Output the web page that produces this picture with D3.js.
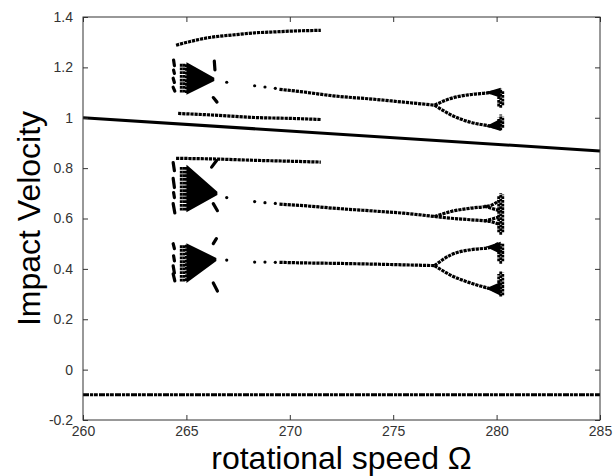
<!DOCTYPE html>
<meta charset="utf-8">
<style>
  body { margin: 0; background: #fff; font-family: "Liberation Sans", Arial, sans-serif; }
</style>
<body>
<svg></svg>
<script src="https://d3js.org/d3.v7.min.js"></script>
<script>

// axis ticks
var xTicks = [260, 265, 270, 275, 280, 285];
var yTicks = [-0.2, 0, 0.2, 0.4, 0.6, 0.8, 1, 1.2, 1.4];

// solid threshold line
var thresholdOmega = [260, 285];
var thresholdV = [1.0, 0.868];

// non-impacting branch along the bottom
var floorOmega = [260, 285];
var floorV = [-0.1, -0.1];

// dotted branches: each is [omega list, velocity list]
var topArc = [[264.5, 265.1, 266.0, 267.4, 268.3, 269.3, 270.4, 271.5],
              [1.288, 1.301, 1.317, 1.330, 1.337, 1.341, 1.345, 1.347]];
var band101 = [[264.6, 266.2, 268.3, 270.2, 271.5],
               [1.017, 1.011, 1.001, 0.997, 0.993]];
var band083 = [[264.5, 266.5, 268.3, 270.2, 271.5],
               [0.839, 0.836, 0.831, 0.827, 0.824]];

var upperP1 = [[269.5, 270.5, 272.1, 274.0, 275.5, 277.0],
               [1.113, 1.104, 1.087, 1.074, 1.062, 1.050]];
var upperHi = [[277.0, 277.8, 278.74, 279.69, 280.1], [1.050, 1.077, 1.092, 1.100, 1.106]];
var upperLo = [[277.0, 277.8, 278.74, 279.69, 280.1], [1.050, 1.011, 0.982, 0.967, 0.960]];

var middleP1 = [[269.5, 270.5, 272.1, 274.0, 275.5, 277.0],
                [0.657, 0.652, 0.641, 0.630, 0.621, 0.608]];
var middleHi = [[277.0, 277.8, 278.74, 279.69, 280.1], [0.608, 0.628, 0.641, 0.651, 0.670]];
var middleLo = [[277.0, 277.8, 278.74, 279.69, 280.1], [0.608, 0.601, 0.595, 0.588, 0.578]];
var middleHi2 = [[279.4, 280.1], [0.649, 0.632]];
var middleLo2 = [[279.4, 280.1], [0.590, 0.605]];

var lowerP1 = [[269.5, 270.5, 272.1, 274.0, 275.5, 277.0],
               [0.426, 0.424, 0.422, 0.419, 0.416, 0.413]];
var lowerHi = [[277.0, 277.8, 278.74, 279.69, 280.1], [0.413, 0.456, 0.476, 0.485, 0.502]];
var lowerLo = [[277.0, 277.8, 278.74, 279.69, 280.1], [0.413, 0.374, 0.344, 0.321, 0.311]];

// isolated sparse points leading into the period-1 branches
var sparseOmega = [266.95, 268.3, 268.8, 269.3, 266.95, 268.3, 268.8, 269.3, 266.95, 268.3, 268.8, 269.3];
var sparseV = [1.141, 1.127, 1.122, 1.117, 0.683, 0.667, 0.663, 0.660, 0.435, 0.427, 0.427, 0.426];

// dense chaotic wedges near omega = 265 (polygon vertices)
var wedgeUpper = [[265.05, 266.3, 266.3, 265.05], [1.214, 1.156, 1.148, 1.098]];
var wedgeMiddle = [[265.05, 266.45, 266.45, 265.05], [0.805, 0.704, 0.696, 0.632]];
var wedgeLower = [[265.05, 266.4, 266.4, 265.05], [0.495, 0.441, 0.433, 0.352]];

// thickened branch ends just before the chaotic bands at omega ~ 280
var endUpperHi = [[279.6, 280.15, 280.15], [1.100, 1.114, 1.085]];
var endUpperLo = [[279.6, 280.15, 280.15], [0.967, 0.990, 0.953]];
var endLowerHi = [[279.6, 280.15, 280.15], [0.487, 0.502, 0.465]];
var endLowerLo = [[279.6, 280.15, 280.15], [0.322, 0.342, 0.300]];

// dense columns left of the wedges: [omega, low, high]
var wedgeColumns = [
  [264.75, 1.10, 1.216], [264.88, 1.10, 1.216], [265.0, 1.098, 1.215],
  [264.75, 0.632, 0.806], [264.88, 0.632, 0.806], [265.0, 0.632, 0.805],
  [264.75, 0.350, 0.497], [264.88, 0.350, 0.497], [265.0, 0.352, 0.496]
];

// scattered short streaks around the wedges: [omega0, v0, omega1, v1]
var scatterSegs = [
  [264.38, 1.229, 264.42, 1.207], [264.38, 1.189, 264.42, 1.176], [264.36, 1.157, 264.42, 1.140], [264.36, 1.121, 264.44, 1.106],
  [266.35, 1.225, 266.38, 1.19], [266.3, 1.08, 266.48, 1.062],
  [264.36, 0.822, 264.42, 0.79], [264.36, 0.759, 264.42, 0.723], [264.38, 0.703, 264.42, 0.683], [264.36, 0.659, 264.44, 0.622],
  [266.22, 0.804, 266.46, 0.83], [266.3, 0.659, 266.5, 0.631],
  [264.36, 0.50, 264.42, 0.48], [264.38, 0.452, 264.42, 0.432], [264.36, 0.412, 264.42, 0.384], [264.36, 0.38, 264.44, 0.352],
  [266.3, 0.50, 266.45, 0.52], [266.3, 0.344, 266.5, 0.312]
];

// chaotic bands at omega ~ 280.2: [omega, low, high]
var chaosBands = [
  [280.1, 1.045, 1.11], [280.2, 1.04, 1.115], [280.3, 1.05, 1.105],
  [280.1, 0.955, 1.0], [280.2, 0.95, 1.013], [280.3, 0.96, 1.005],
  [280.1, 0.545, 0.69], [280.2, 0.535, 0.70], [280.3, 0.545, 0.695],
  [280.1, 0.43, 0.495], [280.2, 0.42, 0.50], [280.3, 0.43, 0.50],
  [280.1, 0.30, 0.38], [280.2, 0.29, 0.39], [280.3, 0.295, 0.385]
];

var width = 614, height = 476;
var margin = {left: 83, right: 14, top: 17, bottom: 56};

var svg = d3.select('svg')
    .attr('width', width)
    .attr('height', height);

var x = d3.scaleLinear().domain([260, 285]).range([margin.left, width - margin.right]);
var y = d3.scaleLinear().domain([-0.2, 1.4]).range([height - margin.bottom, margin.top]);

var plot = svg.append('g');

function toPts(b) {
  return b[0].map(function (o, i) { return [o, b[1][i]]; });
}

var line = d3.line()
    .x(function (d) { return x(d[0]); })
    .y(function (d) { return y(d[1]); })
    .curve(d3.curveMonotoneX);

// threshold line
plot.append('path')
    .attr('d', line(toPts([thresholdOmega, thresholdV])))
    .attr('fill', 'none')
    .attr('stroke', '#000')
    .attr('stroke-width', 3);

// floor branch
plot.append('path')
    .attr('d', line(toPts([floorOmega, floorV])))
    .attr('fill', 'none')
    .attr('stroke', '#000')
    .attr('stroke-width', 3)
    .attr('stroke-dasharray', '6 1 3 0.8 4 1.2');

// dotted branches
var branches = [topArc, band101, band083, upperP1, upperHi, upperLo,
                middleP1, middleHi, middleLo, middleHi2, middleLo2,
                lowerP1, lowerHi, lowerLo];
plot.selectAll('.branch')
    .data(branches)
    .enter().append('path')
    .attr('class', 'branch')
    .attr('d', function (b) { return line(toPts(b)); })
    .attr('fill', 'none')
    .attr('stroke', '#000')
    .attr('stroke-width', 3.2)
    .attr('stroke-dasharray', '3.2 0.9');

// sparse points
plot.selectAll('.sparse')
    .data(sparseOmega)
    .enter().append('circle')
    .attr('class', 'sparse')
    .attr('cx', function (d) { return x(d); })
    .attr('cy', function (d, i) { return y(sparseV[i]); })
    .attr('r', 1.6)
    .attr('fill', '#000');

// wedges and thickened ends
plot.selectAll('.wedge')
    .data([wedgeUpper, wedgeMiddle, wedgeLower, endUpperHi, endUpperLo, endLowerHi, endLowerLo])
    .enter().append('polygon')
    .attr('class', 'wedge')
    .attr('points', function (b) {
      return toPts(b).map(function (p) { return x(p[0]) + ',' + y(p[1]); }).join(' ');
    })
    .attr('fill', '#000')
    .attr('stroke', '#000')
    .attr('stroke-width', 2);

// vertical dotted columns
plot.selectAll('.col')
    .data(wedgeColumns.concat(chaosBands))
    .enter().append('line')
    .attr('class', 'col')
    .attr('x1', function (d) { return x(d[0]); })
    .attr('x2', function (d) { return x(d[0]); })
    .attr('y1', function (d) { return y(d[1]); })
    .attr('y2', function (d) { return y(d[2]); })
    .attr('stroke', '#000')
    .attr('stroke-width', 2.8)
    .attr('stroke-dasharray', '2.8 0.9');

// scattered streaks
plot.selectAll('.seg')
    .data(scatterSegs)
    .enter().append('line')
    .attr('class', 'seg')
    .attr('x1', function (d) { return x(d[0]); })
    .attr('y1', function (d) { return y(d[1]); })
    .attr('x2', function (d) { return x(d[2]); })
    .attr('y2', function (d) { return y(d[3]); })
    .attr('stroke', '#000')
    .attr('stroke-width', 3.2)
    .attr('stroke-linecap', 'round');

// axes box with inward ticks
var axisColor = '#333';
var tickLen = 5;
function styleAxis(g) {
  g.select('.domain').remove();
  g.selectAll('.tick line').attr('stroke', axisColor);
  g.selectAll('.tick text').attr('fill', '#333').style('font-size', '14px')
      .style('font-family', '"Liberation Sans", Arial, sans-serif');
}

svg.append('g')
    .attr('transform', 'translate(0,' + y.range()[0] + ')')
    .call(d3.axisBottom(x).tickValues(xTicks).tickSizeInner(-tickLen).tickSizeOuter(0).tickPadding(6)
          .tickFormat(d3.format('d')))
    .call(styleAxis);

svg.append('g')
    .attr('transform', 'translate(0,' + y.range()[1] + ')')
    .call(d3.axisTop(x).tickValues(xTicks).tickSizeInner(-tickLen).tickSizeOuter(0).tickFormat(''))
    .call(styleAxis);

svg.append('g')
    .attr('transform', 'translate(' + x.range()[0] + ',0)')
    .call(d3.axisLeft(y).tickValues(yTicks).tickSizeInner(-tickLen).tickSizeOuter(0).tickPadding(10)
          .tickFormat(function (d) { return d3.format('~g')(d).replace('\u2212', '-'); }))
    .call(styleAxis);

svg.append('g')
    .attr('transform', 'translate(' + x.range()[1] + ',0)')
    .call(d3.axisRight(y).tickValues(yTicks).tickSizeInner(-tickLen).tickSizeOuter(0).tickFormat(''))
    .call(styleAxis);

svg.append('rect')
    .attr('x', x.range()[0])
    .attr('y', y.range()[1])
    .attr('width', x.range()[1] - x.range()[0])
    .attr('height', y.range()[0] - y.range()[1])
    .attr('fill', 'none')
    .attr('stroke', axisColor)
    .attr('stroke-width', 1);

// axis labels
svg.append('text')
    .attr('x', (x.range()[0] + x.range()[1]) / 2)
    .attr('y', 469)
    .attr('text-anchor', 'middle')
    .style('font-size', '32px')
    .text('rotational speed \u03A9');

svg.append('text')
    .attr('transform', 'translate(40,' + (y.range()[0] + y.range()[1]) / 2 + ')rotate(-90)')
    .attr('text-anchor', 'middle')
    .style('font-size', '32px')
    .text('Impact Velocity');

</script>
</body>
